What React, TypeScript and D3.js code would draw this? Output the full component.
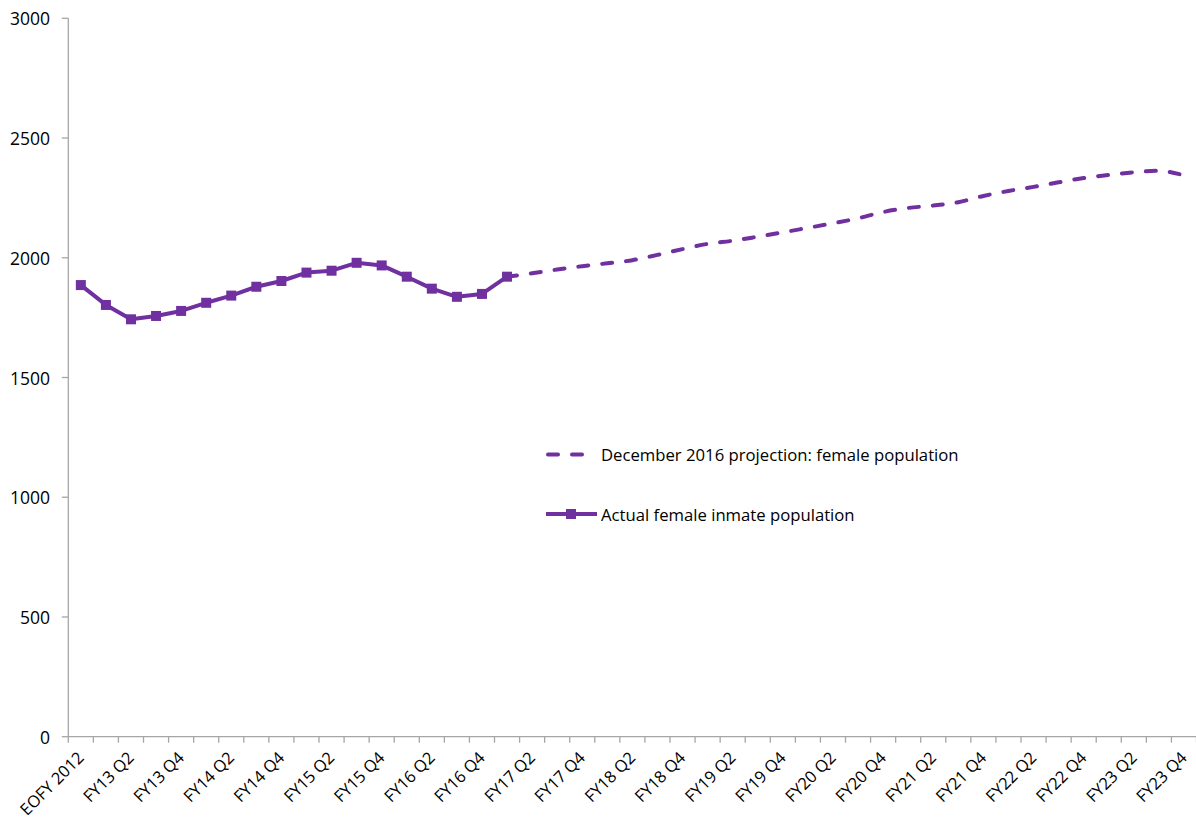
import React from "react";
import * as d3 from "d3";

const categories: string[] = [
  "EOFY 2012",
  "FY13 Q1", "FY13 Q2", "FY13 Q3", "FY13 Q4",
  "FY14 Q1", "FY14 Q2", "FY14 Q3", "FY14 Q4",
  "FY15 Q1", "FY15 Q2", "FY15 Q3", "FY15 Q4",
  "FY16 Q1", "FY16 Q2", "FY16 Q3", "FY16 Q4",
  "FY17 Q1", "FY17 Q2", "FY17 Q3", "FY17 Q4",
  "FY18 Q1", "FY18 Q2", "FY18 Q3", "FY18 Q4",
  "FY19 Q1", "FY19 Q2", "FY19 Q3", "FY19 Q4",
  "FY20 Q1", "FY20 Q2", "FY20 Q3", "FY20 Q4",
  "FY21 Q1", "FY21 Q2", "FY21 Q3", "FY21 Q4",
  "FY22 Q1", "FY22 Q2", "FY22 Q3", "FY22 Q4",
  "FY23 Q1", "FY23 Q2", "FY23 Q3", "FY23 Q4",
];

// Actual female inmate population: EOFY 2012 .. FY17 Q1
const actualValues: number[] = [
  1886, 1803, 1743, 1757, 1778, 1812, 1842, 1879, 1903, 1938,
  1946, 1979, 1968, 1921, 1871, 1837, 1849, 1921,
];

// December 2016 projection: FY17 Q1 .. FY23 Q4
const projectionStart = 17;
const projectionValues: number[] = [
  1921, 1935, 1951, 1965, 1977, 1990, 2012, 2036, 2058, 2071,
  2088, 2106, 2125, 2144, 2165, 2191, 2208, 2218, 2232, 2258,
  2279, 2296, 2315, 2333, 2346, 2357, 2363, 2344,
];

const yTicks: number[] = [0, 500, 1000, 1500, 2000, 2500, 3000];

const legendLabels: string[] = [
  "December 2016 projection: female population",
  "Actual female inmate population",
];

const PURPLE = "#7030a0";
const AXIS = "#a6a6a6";
const FONT = "'Open Sans', sans-serif";

export default function App() {
  const width = 1196;
  const height = 820;
  const left = 68.3;
  const right = 1196.5;
  const top = 18.3;
  const bottom = 736.7;

  const x = d3.scaleBand<string>().domain(categories).range([left, right]).padding(0);
  const y = d3.scaleLinear().domain([0, 3000]).range([bottom, top]);
  const bw = x.bandwidth();
  const cx = (c: string) => (x(c) as number) + bw / 2;

  const actual = actualValues.map((v, i) => ({ c: categories[i], v }));
  const proj = projectionValues.map((v, i) => ({ c: categories[projectionStart + i], v }));

  const line = d3
    .line<{ c: string; v: number }>()
    .x((d) => cx(d.c))
    .y((d) => y(d.v));

  const projLine = d3
    .line<{ c: string; v: number }>()
    .x((d) => cx(d.c))
    .y((d) => y(d.v))
    .curve(d3.curveMonotoneX);

  const tickXs = categories.map((c) => x(c) as number).concat([right]);

  return (
    <svg
      width={width}
      height={height}
      style={{ position: "absolute", left: 0, top: 0, background: "#fff" }}
      fontFamily={FONT}
    >
      <rect x={0} y={0} width={width} height={height} fill="#fff" />
      {/* Y axis */}
      <line x1={left} x2={left} y1={top} y2={bottom} stroke={AXIS} strokeWidth={1.3} />
      {yTicks.map((t) => (
        <g key={t}>
          <line x1={left - 6.5} x2={left} y1={y(t)} y2={y(t)} stroke={AXIS} strokeWidth={1.3} />
          <text
            x={50}
            y={y(t)}
            textAnchor="end"
            dominantBaseline="central"
            fontSize={17.5}
            fill="#000"
          >
            {t}
          </text>
        </g>
      ))}
      {/* X axis */}
      <line x1={left} x2={right} y1={bottom} y2={bottom} stroke={AXIS} strokeWidth={1.3} />
      {tickXs.map((tx, i) => (
        <line key={i} x1={tx} x2={tx} y1={bottom} y2={bottom + 6} stroke={AXIS} strokeWidth={1.3} />
      ))}
      {categories.map((c, i) =>
        i % 2 === 0 ? (
          <text
            key={c}
            transform={`translate(${cx(c) + 4},${bottom + 22}) rotate(-45)`}
            textAnchor="end"
            fontSize={16.5}
            fill="#000"
          >
            {c}
          </text>
        ) : null
      )}

      {/* Projection dashed line */}
      <path
        d={projLine(proj) || ""}
        fill="none"
        stroke={PURPLE}
        strokeWidth={4}
        strokeDasharray="10 14"
        strokeLinecap="round"
      />
      {/* Actual line */}
      <path d={line(actual) || ""} fill="none" stroke={PURPLE} strokeWidth={4} strokeLinejoin="round" />
      {actual.map((d) => (
        <rect
          key={d.c}
          x={cx(d.c) - 5}
          y={y(d.v) - 5}
          width={10}
          height={10}
          fill={PURPLE}
        />
      ))}

      {/* Legend */}
      <g>
        <line
          x1={548}
          x2={582}
          y1={454.5}
          y2={454.5}
          stroke={PURPLE}
          strokeWidth={4}
          strokeDasharray="10 14"
          strokeLinecap="round"
        />
        <text x={601} y={454.5} dominantBaseline="central" fontSize={16.7} fill="#000">
          {legendLabels[0]}
        </text>
        <line x1={546} x2={597} y1={514} y2={514} stroke={PURPLE} strokeWidth={4} />
        <rect x={566} y={509} width={10} height={10} fill={PURPLE} />
        <text x={601} y={514} dominantBaseline="central" fontSize={16.7} fill="#000">
          {legendLabels[1]}
        </text>
      </g>
    </svg>
  );
}
